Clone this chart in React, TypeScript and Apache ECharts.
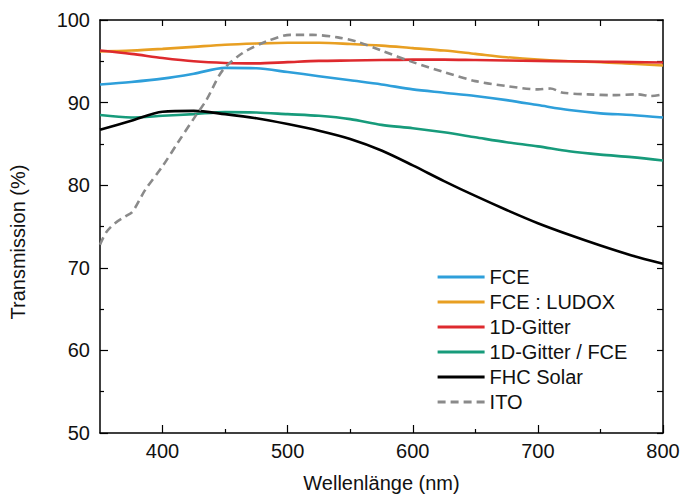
import React, { useEffect, useRef } from "react";
import * as echarts from "echarts";

const wavelengths = [350, 375, 400, 425, 450, 475, 500, 525, 550, 575, 600, 625, 650, 675, 700, 725, 750, 775, 800];
const fce = [92.2, 92.5, 92.9, 93.5, 94.2, 94.15, 93.7, 93.2, 92.7, 92.2, 91.6, 91.2, 90.8, 90.3, 89.7, 89.1, 88.7, 88.5, 88.2];
const fceLudox = [96.2, 96.3, 96.5, 96.75, 97.0, 97.15, 97.25, 97.25, 97.1, 96.9, 96.6, 96.3, 95.9, 95.5, 95.2, 95.0, 94.9, 94.7, 94.5];
const gitter = [96.3, 95.9, 95.4, 95.0, 94.8, 94.75, 94.9, 95.05, 95.1, 95.15, 95.2, 95.2, 95.15, 95.1, 95.05, 95.0, 94.95, 94.9, 94.85];
const gitterFce = [88.5, 88.2, 88.4, 88.6, 88.85, 88.8, 88.6, 88.4, 88.0, 87.3, 86.9, 86.4, 85.8, 85.2, 84.7, 84.1, 83.7, 83.4, 83.0];
const fhcSolar = [86.7, 87.8, 88.9, 89.0, 88.6, 88.1, 87.4, 86.6, 85.6, 84.2, 82.4, 80.5, 78.7, 77.0, 75.4, 74.0, 72.7, 71.5, 70.5];

const itoWavelengths = [350, 355, 362, 370, 376, 386, 400, 412, 426, 435, 448, 464, 483, 502, 520, 540, 555, 575, 600, 625, 650, 675, 700, 710, 720, 740, 760, 780, 790, 800];
const ito = [72.8, 74.3, 75.4, 76.2, 76.8, 79.4, 82.3, 85.1, 88.3, 90.3, 93.9, 96.0, 97.4, 98.2, 98.2, 97.9, 97.4, 96.3, 94.9, 93.7, 92.6, 92.0, 91.6, 91.7, 91.2, 91.0, 90.9, 91.0, 90.8, 91.0];

const seriesNames = ["FCE", "FCE : LUDOX", "1D-Gitter", "1D-Gitter / FCE", "FHC Solar", "ITO"];
const seriesColors = ["#2E9FDA", "#E89F22", "#DE2A2E", "#179B7B", "#000000", "#8a8a8a"];

const xLabelValues = [400, 500, 600, 700, 800];
const xMinorValues = [450, 550, 650, 750];
const xTopValues = [400, 450, 500, 550, 600, 650, 700, 750];

const FONT = "'Liberation Sans', Arial, Helvetica, sans-serif";

export default function App() {
  const ref = useRef<HTMLDivElement>(null);

  useEffect(() => {
    if (!ref.current) return;
    const chart = echarts.init(ref.current, undefined, { renderer: "svg" });

    const pair = (xs: number[], ys: number[]) => xs.map((x, i) => [x, ys[i]]);
    const mainData = [fce, fceLudox, gitter, gitterFce, fhcSolar];

    const series: any[] = mainData.map((vals, i) => ({
      name: seriesNames[i],
      type: "line",
      xAxisIndex: 0,
      yAxisIndex: 0,
      data: pair(wavelengths, vals),
      symbol: "none",
      smooth: 0.3,
      lineStyle: { color: seriesColors[i], width: 2.6 },
      itemStyle: { color: seriesColors[i] },
    }));
    series.push({
      name: seriesNames[5],
      type: "line",
      xAxisIndex: 0,
      yAxisIndex: 0,
      data: pair(itoWavelengths, ito),
      symbol: "none",
      smooth: 0.3,
      lineStyle: { color: seriesColors[5], width: 2.6, type: [8, 5] },
      itemStyle: { color: seriesColors[5] },
    });

    const axisLine = { show: true, lineStyle: { color: "#000", width: 1.5 } };
    const tickStyle = { color: "#000", width: 1.2 };

    chart.setOption({
      animation: false,
      textStyle: { fontFamily: FONT },
      grid: { left: 100, right: 18, top: 20, bottom: 65, outerBoundsMode: "none" },
      legend: {
        orient: "vertical",
        left: 431,
        top: 262,
        itemWidth: 47,
        itemHeight: 14,
        itemGap: 5,
        data: seriesNames,
        itemStyle: { opacity: 0 },
        lineStyle: { width: 3.2 },
        textStyle: { fontFamily: FONT, fontSize: 20, lineHeight: 20, color: "#111" },
      },
      xAxis: [
        {
          type: "value",
          min: 350,
          max: 800,
          position: "bottom",
          name: "Wellenlänge (nm)",
          nameLocation: "middle",
          nameGap: 40,
          nameTextStyle: { fontFamily: FONT, fontSize: 20, color: "#111" },
          axisLine,
          splitLine: { show: false },
          axisTick: { show: true, inside: true, length: 8, lineStyle: tickStyle, customValues: xLabelValues },
          axisLabel: { fontFamily: FONT, fontSize: 20, color: "#111", margin: 8, customValues: xLabelValues },
        },
        {
          type: "value",
          min: 350,
          max: 800,
          position: "bottom",
          axisLine: { show: false },
          splitLine: { show: false },
          axisTick: { show: true, inside: true, length: 4, lineStyle: tickStyle, customValues: xMinorValues },
          axisLabel: { show: false },
        },
        {
          type: "value",
          min: 350,
          max: 800,
          position: "top",
          axisLine,
          splitLine: { show: false },
          axisTick: { show: true, inside: true, length: 6, lineStyle: tickStyle, customValues: xTopValues },
          axisLabel: { show: false },
        },
      ],
      yAxis: [
        {
          type: "value",
          min: 50,
          max: 100,
          interval: 10,
          position: "left",
          axisLine,
          splitLine: { show: false },
          axisTick: { show: true, inside: true, length: 8, lineStyle: tickStyle },
          minorTick: { show: true, splitNumber: 2, length: 4, lineStyle: tickStyle },
          minorSplitLine: { show: false },
          axisLabel: { fontFamily: FONT, fontSize: 20, color: "#111", margin: 10 },
        },
        {
          type: "value",
          min: 50,
          max: 100,
          interval: 5,
          position: "right",
          axisLine,
          splitLine: { show: false },
          axisTick: { show: true, inside: true, length: 6, lineStyle: tickStyle },
          axisLabel: { show: false },
        },
      ],
      graphic: [
        {
          type: "text",
          x: 18,
          y: 242,
          rotation: Math.PI / 2,
          style: {
            text: "Transmission (%)",
            fontFamily: FONT,
            fontSize: 20,
            fill: "#111",
            textAlign: "center",
            textVerticalAlign: "middle",
          },
        },
      ],
      series,
    });

    return () => chart.dispose();
  }, []);

  return (
    <div
      ref={ref}
      style={{ position: "fixed", left: 0, top: 0, width: 681, height: 498, background: "#fff" }}
    />
  );
}
